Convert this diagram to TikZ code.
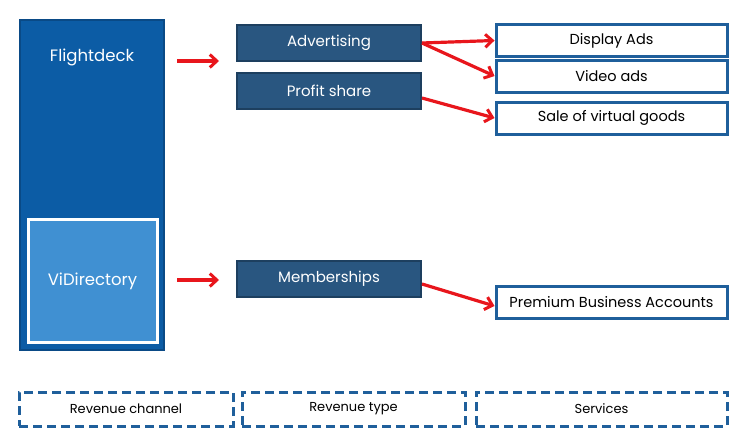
\documentclass[tikz,border=0pt]{standalone}
\usepackage{fontspec}
\setmainfont{Poppins}
\usetikzlibrary{arrows.meta}
\definecolor{bigblue}{HTML}{0C5CA5}
\definecolor{bigborder}{HTML}{0A4A86}
\definecolor{lightblue}{HTML}{4090D2}
\definecolor{darkbox}{HTML}{295680}
\definecolor{darkborder}{HTML}{1D3F5F}
\definecolor{outblue}{HTML}{1F5F9B}
\definecolor{arrred}{HTML}{E8161C}
\begin{document}
\begin{tikzpicture}[x=1pt,y=-1pt,
  typebox/.style={draw=darkborder,line width=2pt,fill=darkbox,text=white,minimum width=184pt,minimum height=36pt,inner sep=0pt,font=\fontsize{15}{17}\selectfont},
  servbox/.style={draw=outblue,line width=3pt,fill=white,text=black,minimum width=231pt,minimum height=32pt,inner sep=0pt,font=\fontsize{14.5}{17}\selectfont},
  legbox/.style={draw=outblue,line width=3pt,dash pattern=on 9pt off 5pt,minimum height=34pt,inner sep=0pt,font=\fontsize{13}{15}\selectfont},
  redarrow/.style={draw=arrred,line width=3.2pt,-{Straight Barb[length=7pt,width=13pt,line width=3pt]}}
]
\useasboundingbox (0,0) rectangle (736,434);
% revenue channel column
\node[draw=bigborder,line width=2pt,fill=bigblue,minimum width=144pt,minimum height=330pt,inner sep=0pt] (big) at (92,185) {};
\node[text=white,font=\fontsize{16.5}{19}\selectfont] (flight) at (92,57) {Flightdeck};
\node[draw=white,line width=3pt,fill=lightblue,text=white,minimum width=129pt,minimum height=123pt,inner sep=0pt,font=\fontsize{16.5}{19}\selectfont] (vidir) at (92.5,281) {ViDirectory};
% revenue types
\node[typebox] (adv) at (329,43) {Advertising};
\node[typebox] (profit) at (329,91) {Profit share};
\node[typebox] (memb) at (329,279) {Memberships};
% services
\node[servbox] (display) at (611.5,40.5) {Display Ads};
\node[servbox] (video) at (611.5,76) {Video ads};
\node[servbox] (sale) at (611.5,118) {Sale of virtual goods};
\node[servbox] (premium) at (611.5,302) {Premium Business Accounts};
% legend
\node[legbox,minimum width=214pt] (lchan) at (126,409) {Revenue channel};
\node[legbox,minimum width=223pt] (ltype) at (353.5,409) {Revenue type};
\node[legbox,minimum width=251pt] (lserv) at (601.5,409) {Services};
% arrows
\coordinate (fa1) at (177,61);
\coordinate (fa2) at (219,61);
\coordinate (va1) at (177,280);
\coordinate (va2) at (219,280);
\draw[redarrow] (fa1) -- (fa2);
\draw[redarrow] (va1) -- (va2);
\draw[redarrow] (adv.east) -- (display.west);
\draw[redarrow] (adv.east) -- (video.west);
\draw[redarrow] ([yshift=-7pt]profit.east) -- (sale.west);
\draw[redarrow] ([yshift=-5pt]memb.east) -- ([yshift=-4pt]premium.west);
\end{tikzpicture}
\end{document}
